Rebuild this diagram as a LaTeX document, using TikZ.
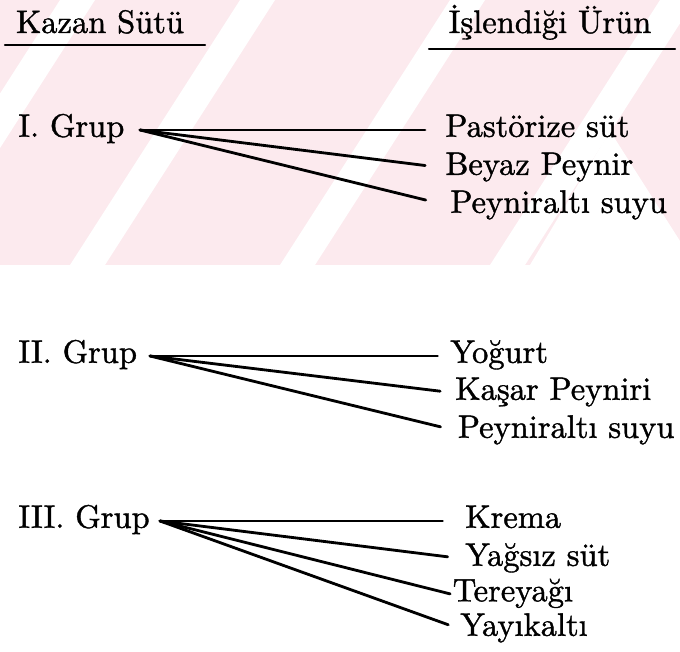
\documentclass[tikz,border=0pt]{standalone}
\usepackage{fontspec}
\usepackage{tikz}
\usetikzlibrary{calc}
\usetikzlibrary{positioning}
\newfontfamily\scanfont{lmroman10-regular.otf}[FakeBold=1.2]
\definecolor{wmark}{RGB}{252,234,238}
\tikzstyle{lbl} = [rectangle, anchor=west, inner sep=0pt, text height=2.2ex, text depth=0.4ex, font=\scanfont\fontsize{18.5}{22}\selectfont]
\tikzstyle{head} = [rectangle, anchor=base, inner sep=0pt, font=\scanfont\fontsize{18.5}{22}\selectfont]
\tikzstyle{link} = [-, line width=1.6pt, line cap=round]

\begin{document}
\begin{tikzpicture}
\useasboundingbox (0, 0) rectangle (13.6, 13.02);
\begin{scope}
\clip (0, 7.72) rectangle (13.6, 13.02);
\fill [wmark] (0, 7.72) rectangle (13.6, 13.02);
\foreach \a in {-2.2, 1.4, 5.6, 9.8}
  \fill [white] (\a, 7.72) -- ++(0.7, 0) -- ++(3.4, 5.3) -- ++(-0.7, 0) -- cycle;
\fill [white] (10.6, 7.72) -- (12.2, 10.4) -- (13.6, 8.2) -- (13.6, 7.72) -- cycle;
\end{scope}

\node [head] (K) at (2.0, 12.36) {Kazan Sütü};
\node [head] (U) at (11.0, 12.36) {İşlendiği Ürün};
\coordinate (K1) at (0.1, 12.12);
\coordinate (K2) at (4.1, 12.12);
\coordinate (U1) at (8.58, 12.04);
\coordinate (U2) at (13.5, 12.04);
\draw [link, line width=1.2pt] (K1) -- (K2);
\draw [link, line width=1.2pt] (U1) -- (U2);

\node [lbl] (G1) at (0.36, 10.42) {I. Grup};
\coordinate (O1) at (2.8, 10.42);
\node [lbl] (P1) at (8.9, 10.42) {Pastörize süt};
\node [lbl] (P2) at (8.9, 9.66) {Beyaz Peynir};
\node [lbl] (P3) at (9.0, 8.9) {Peyniraltı suyu};
\draw [link, shorten >=0.4cm] (O1) -- (P1.west);
\draw [link, shorten >=0.4cm] (O1) -- (P2.west);
\draw [link, shorten >=0.5cm] (O1) -- (P3.west);

\node [lbl] (G2) at (0.36, 5.9) {II. Grup};
\coordinate (O2) at (3.0, 5.9);
\node [lbl] (Q1) at (9.0, 5.9) {Yoğurt};
\node [lbl] (Q2) at (9.1, 5.16) {Kaşar Peyniri};
\node [lbl] (Q3) at (9.15, 4.4) {Peyniraltı suyu};
\draw [link, shorten >=0.25cm] (O2) -- (Q1.west);
\draw [link, shorten >=0.3cm] (O2) -- (Q2.west);
\draw [link, shorten >=0.35cm] (O2) -- (Q3.west);

\node [lbl] (G3) at (0.36, 2.6) {III. Grup};
\coordinate (O3) at (3.2, 2.6);
\node [lbl] (R1) at (9.3, 2.6) {Krema};
\node [lbl] (R2) at (9.3, 1.84) {Yağsız süt};
\node [lbl] (R3) at (9.05, 1.13) {Tereyağı};
\node [lbl] (R4) at (9.2, 0.44) {Yayıkaltı};
\draw [link, shorten >=0.45cm] (O3) -- (R1.west);
\draw [link, shorten >=0.35cm] (O3) -- (R2.west);
\draw [link, shorten >=0.05cm] (O3) -- (R3.west);
\draw [link, shorten >=0.25cm] (O3) -- (R4.west);
\end{tikzpicture}
\end{document}
